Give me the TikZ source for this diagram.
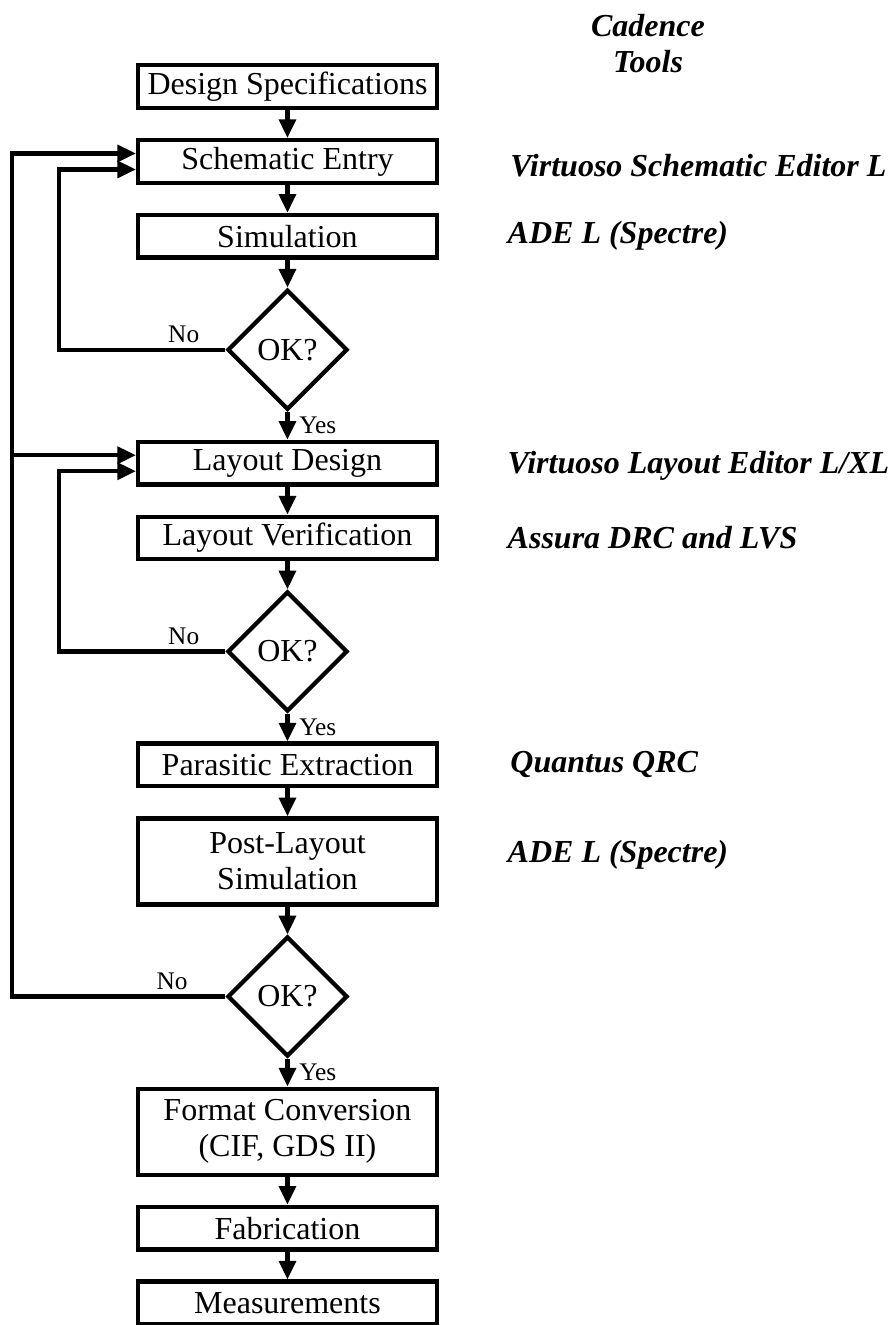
\documentclass[tikz,border=0pt]{standalone}
\usepackage{fontspec}
\setmainfont{Liberation Serif}
\usetikzlibrary{shapes.geometric,positioning,arrows.meta}

\tikzset{
  block/.style={draw,line width=3.2pt,minimum width=224pt,minimum height=32pt,
    inner sep=2pt,align=center,font=\fontsize{24}{27}\selectfont},
  decision/.style={draw,diamond,aspect=1,line width=3.2pt,minimum size=90pt,
    inner sep=0pt,font=\fontsize{24}{27}\selectfont},
  tool/.style={inner sep=0pt,align=left,font=\fontsize{24}{27}\selectfont\bfseries\itshape},
  answer/.style={font=\fontsize{19}{22}\selectfont},
}

\begin{document}
\begin{tikzpicture}[node distance=20.9pt,line width=3.2pt,
    >={Triangle[length=14pt,width=12.5pt]}]
    \path[use as bounding box,clip] (0,0) rectangle (669.75pt,-993.75pt);
    % flow
    \node[block] (spec) at (215.6pt,-65pt) {Design Specifications};
    \node[block] (schem) [below=of spec] {Schematic Entry};
    \node[block] (sim) [below=of schem] {Simulation};
    \node[decision] (ok1) [below=of sim] {OK?};
    \node[block] (lay) [below=of ok1] {Layout Design};
    \node[block] (ver) [below=of lay] {Layout Verification};
    \node[decision] (ok2) [below=of ver] {OK?};
    \node[block] (pex) [below=of ok2] {Parasitic Extraction};
    \node[block,minimum height=64.5pt] (post) [below=of pex] {Post-Layout\\Simulation};
    \node[decision] (ok3) [below=of post] {OK?};
    \node[block,minimum height=64.5pt] (gds) [below=of ok3] {Format Conversion\\(CIF, GDS II)};
    \node[block] (fab) [below=of gds] {Fabrication};
    \node[block] (meas) [below=of fab] {Measurements};
    % tools
    \node[tool,align=center] (cad) at (486pt,-32.6pt) {Cadence\\Tools};
    \node[tool] (t1) [right=52pt of schem,yshift=-3pt] {Virtuoso Schematic Editor L};
    \node[tool] (t2) [right=50pt of sim] {ADE L (Spectre)};
    \node[tool] (t3) [right=50pt of lay,yshift=-2pt] {Virtuoso Layout Editor L/XL};
    \node[tool] (t4) [right=50pt of ver] {Assura DRC and LVS};
    \node[tool] (t5) [right=52pt of pex] {Quantus QRC};
    \node[tool] (t6) [right=50pt of post,yshift=5pt] {ADE L (Spectre)};
    \path[->]
    (spec) edge (schem)
    (schem) edge (sim)
    (sim) edge (ok1)
    (ok1) edge node [answer,right,xshift=4pt] {Yes} (lay)
    (lay) edge (ver)
    (ver) edge (ok2)
    (ok2) edge node [answer,right,xshift=4pt] {Yes} (pex)
    (pex) edge (post)
    (post) edge (ok3)
    (ok3) edge node [answer,right,xshift=4pt] {Yes} (gds)
    (gds) edge (fab)
    (fab) edge (meas)
    ;
    % loops back
    \coordinate (back1) at ([xshift=-124.9pt]ok1.west);
    \coordinate (back2) at ([xshift=-124.9pt]ok2.west);
    \coordinate (back3) at ([xshift=-160pt]ok3.west);
    \coordinate (layin) at ([yshift=6pt]lay.west);
    \draw[->] (ok1.west) -- node [answer,above,near start] {No} (back1) |- ([yshift=-6pt]schem.west);
    \draw[->] (ok2.west) -- node [answer,above,near start] {No} (back2) |- ([yshift=-6pt]lay.west);
    \draw[->] (ok3.west) -- node [answer,above,near start] {No} (back3) |- ([yshift=6pt]schem.west);
    \draw[->] (back3 |- layin) -- (layin);
\end{tikzpicture}
\end{document}
